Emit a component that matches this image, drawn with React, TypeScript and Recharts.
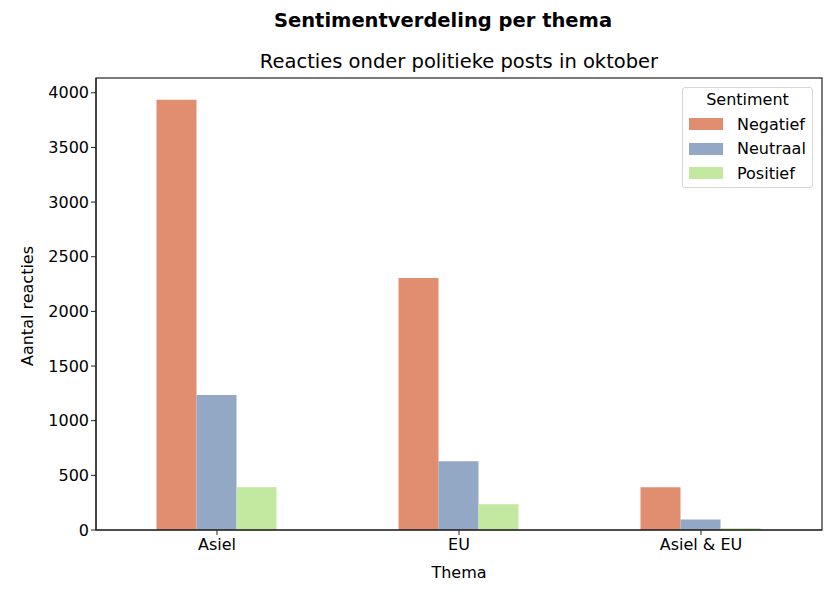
import React from "react";
import { Bar, BarChart, XAxis, YAxis } from "recharts";

const themas = ["Asiel", "EU", "Asiel & EU"];
const negatief = [3935, 2305, 390];
const neutraal = [1235, 630, 95];
const positief = [390, 235, 15];
const yTicks = [0, 500, 1000, 1500, 2000, 2500, 3000, 3500, 4000];

const series = [
  { key: "Negatief", color: "#e08d70" },
  { key: "Neutraal", color: "#93a8c4" },
  { key: "Positief", color: "#c3e8a0" },
];

const data = themas.map((thema, i) => ({
  thema,
  Negatief: negatief[i],
  Neutraal: neutraal[i],
  Positief: positief[i],
}));

const font = "'DejaVu Sans', sans-serif";

function LegendBox() {
  return (
    <div
      style={{
        position: "absolute",
        left: 682,
        top: 87,
        width: 131,
        height: 101,
        boxSizing: "border-box",
        border: "1px solid #d6d6d6",
        borderRadius: 3,
        background: "#fff",
        padding: "0 0 0 6px",
        fontFamily: font,
        fontSize: 16,
        color: "#000",
      }}
    >
      <div style={{ textAlign: "center", height: 24, lineHeight: "24px", marginLeft: -6 }}>Sentiment</div>
      {series.map((s) => (
        <div key={s.key} style={{ display: "flex", alignItems: "center", height: 24.5 }}>
          <span style={{ width: 34, height: 12, background: s.color, marginRight: 14 }} />
          <span>{s.key}</span>
        </div>
      ))}
    </div>
  );
}

export default function App() {
  return (
    <div style={{ position: "absolute", left: 0, top: 0, width: 840, height: 600, background: "#fff" }}>
      <BarChart
        width={840}
        height={600}
        data={data}
        margin={{ top: 78, right: 18, left: 36, bottom: 40 }}
        barCategoryGap="25%"
        barGap={0}
      >
        <XAxis
          dataKey="thema"
          tick={{ fontSize: 16, fill: "#000", fontFamily: font, dy: 2 }}
          tickLine={{ stroke: "#222" }}
          axisLine={{ stroke: "#222", strokeWidth: 1.2 }}
          tickSize={5}
          height={30}
        />
        <YAxis
          type="number"
          domain={[0, 4135]}
          ticks={yTicks}
          width={60}
          tick={{ fontSize: 16, fill: "#000", fontFamily: font }}
          tickLine={{ stroke: "#222" }}
          axisLine={{ stroke: "#222", strokeWidth: 1.2 }}
          tickSize={5}
        />
        {series.map((s) => (
          <Bar key={s.key} dataKey={s.key} fill={s.color} isAnimationActive={false} />
        ))}
      </BarChart>
      <svg
        width={840}
        height={600}
        style={{ position: "absolute", left: 0, top: 0, pointerEvents: "none" }}
        fontFamily={font}
      >
        <rect x={96} y={78} width={726} height={452} fill="none" stroke="#222" strokeWidth={1.2} />
        <text x={443} y={27} textAnchor="middle" fontSize={19.5} fontWeight="bold">
          Sentimentverdeling per thema
        </text>
        <text x={459} y={68} textAnchor="middle" fontSize={19.5}>
          Reacties onder politieke posts in oktober
        </text>
        <text x={459} y={578} textAnchor="middle" fontSize={16}>
          Thema
        </text>
        <text x={33} y={306} textAnchor="middle" fontSize={16} transform="rotate(-90 33 306)">
          Aantal reacties
        </text>
      </svg>
      <LegendBox />
    </div>
  );
}
